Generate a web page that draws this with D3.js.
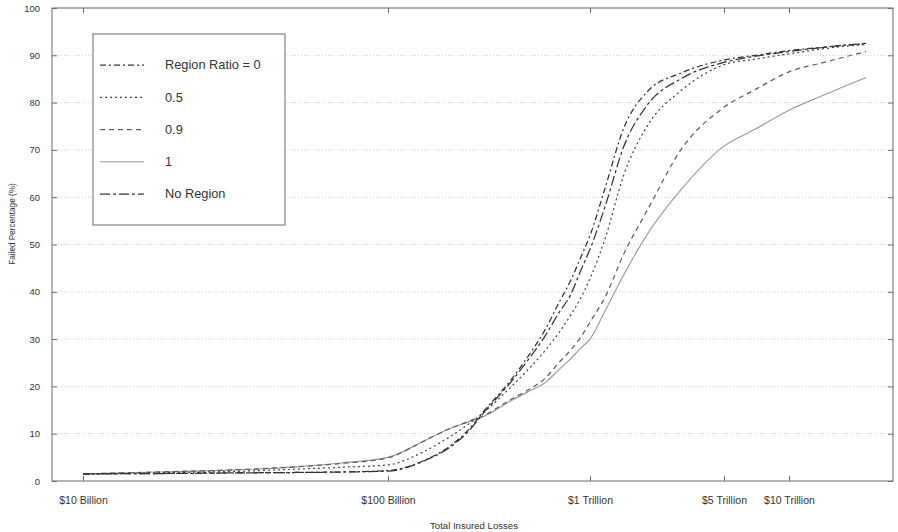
<!DOCTYPE html>
<html>
<head>
<meta charset="utf-8">
<script src="https://cdn.jsdelivr.net/npm/d3@7"></script>
<style>
  html, body { margin: 0; padding: 0; background: #fff; }
  svg { display: block; font-family: "Liberation Sans", Arial, sans-serif; }
</style>
</head>
<body>
<svg id="chart" width="898" height="532"></svg>
<script>
// ---- data ----
const lossesBillions = [10, 20, 30, 50, 70, 100, 150, 200, 250, 300, 400, 500, 600, 700, 800, 900, 1000, 1200, 1500, 2000, 3000, 5000, 7000, 10000, 15000, 24500];
const ratio0   = [1.5, 1.6, 1.7, 1.8, 1.9, 2.2, 4.3, 7.2, 10.8, 14.9, 21.0, 26.7, 32.0, 37.6, 42.3, 47.3, 51.9, 62.0, 74.6, 82.4, 86.3, 89.0, 90.0, 91.0, 91.7, 92.5];
const ratio05  = [1.5, 1.8, 2.0, 2.5, 2.9, 3.4, 6.2, 9.2, 12.0, 14.6, 19.6, 23.8, 27.6, 31.3, 35.0, 38.7, 42.8, 51.3, 64.7, 75.2, 82.6, 88.0, 89.2, 90.3, 91.4, 92.3];
const ratio09  = [1.5, 2.0, 2.3, 3.0, 3.7, 4.9, 8.4, 11.0, 12.6, 13.9, 17.1, 19.4, 21.7, 25.0, 27.6, 30.4, 33.6, 38.9, 48.0, 57.4, 70.2, 79.0, 82.8, 86.5, 88.5, 90.8];
const ratio1   = [1.5, 2.0, 2.3, 3.0, 3.8, 5.0, 8.4, 11.0, 12.5, 13.7, 16.8, 19.0, 20.8, 23.5, 25.8, 28.1, 30.0, 36.0, 43.6, 52.3, 61.7, 70.8, 74.4, 78.4, 81.6, 85.3];
const noRegion = [1.5, 1.6, 1.7, 1.8, 1.9, 2.1, 4.2, 7.0, 10.5, 14.6, 20.6, 25.9, 30.7, 35.5, 39.3, 44.5, 49.0, 58.1, 70.7, 79.6, 85.1, 88.5, 89.8, 90.8, 91.7, 92.5];

const seriesNames = ["Region Ratio = 0", "0.5", "0.9", "1", "No Region"];
const xTickValues = [10, 100, 1000, 5000, 10000];
const xTickLabels = ["$10 Billion", "$100 Billion", "$1 Trillion", "$5 Trillion", "$10 Trillion"];
const yTickValues = [0, 10, 20, 30, 40, 50, 60, 70, 80, 90, 100];
const xTitle = "Total Insured Losses";
const yTitle = "Failed Percentage (%)";

// ---- styles (not data) ----
const styles = [
  { color: "#333333", dash: "6,3,2,3",  width: 1.25 },
  { color: "#444444", dash: "2,3",      width: 1.25 },
  { color: "#5e5e5e", dash: "5,4",      width: 1.25 },
  { color: "#9a9a9a", dash: null,       width: 1.15 },
  { color: "#333333", dash: "10,3,3,3", width: 1.25 }
];
const seriesValues = [ratio0, ratio05, ratio09, ratio1, noRegion];

// ---- layout ----
const plot = { left: 52, right: 893, top: 8, bottom: 481 };
const svg = d3.select("#chart");

// piecewise log scale (axis positions in the original are not uniform per decade)
const x = d3.scaleLog()
  .domain([10, 100, 1000, 5000, 10000, 24500])
  .range([83, 388, 590, 724, 789, 866]);
const y = d3.scaleLinear().domain([0, 100]).range([plot.bottom, plot.top]);

// grid
svg.append("g").selectAll("line")
  .data(yTickValues.filter(v => v > 0 && v < 100))
  .join("line")
  .attr("x1", plot.left).attr("x2", plot.right)
  .attr("y1", d => y(d)).attr("y2", d => y(d))
  .attr("stroke", "#cccccc").attr("stroke-width", 1)
  .attr("stroke-dasharray", "1,2");

// frame
svg.append("rect")
  .attr("x", plot.left).attr("y", plot.top)
  .attr("width", plot.right - plot.left).attr("height", plot.bottom - plot.top)
  .attr("fill", "none").attr("stroke", "#6a6a6a").attr("stroke-width", 1);

// axes (inward ticks on all four sides)
const tickLen = 5;
const fmtX = (d) => xTickLabels[xTickValues.indexOf(d)];
const xBottom = d3.axisBottom(x).tickValues(xTickValues).tickFormat(fmtX).tickSize(-tickLen).tickPadding(16);
const xTop = d3.axisTop(x).tickValues(xTickValues).tickFormat("").tickSize(-tickLen);
const yLeft = d3.axisLeft(y).tickValues(yTickValues).tickSize(-tickLen).tickPadding(12);
const yRight = d3.axisRight(y).tickValues(yTickValues).tickFormat("").tickSize(-tickLen);

function styleAxis(fs) {
  return function (g) {
    g.select(".domain").remove();
    g.selectAll(".tick line").attr("stroke", "#6a6a6a");
    g.selectAll(".tick text").attr("fill", "#333").attr("font-size", fs)
      .attr("font-family", "'Liberation Sans', Arial, sans-serif");
  };
}
svg.append("g").attr("transform", `translate(0,${plot.bottom})`).call(xBottom).call(styleAxis(10.5));
svg.append("g").attr("transform", `translate(0,${plot.top})`).call(xTop).call(styleAxis(9));
svg.append("g").attr("transform", `translate(${plot.left},0)`).call(yLeft).call(styleAxis(9.5));
svg.append("g").attr("transform", `translate(${plot.right},0)`).call(yRight).call(styleAxis(9));

// axis titles
svg.append("text")
  .attr("x", 474).attr("y", 529)
  .attr("text-anchor", "middle").attr("font-size", 9.6).attr("fill", "#333")
  .text(xTitle);
svg.append("text")
  .attr("transform", `translate(15,224) rotate(-90)`)
  .attr("text-anchor", "middle").attr("font-size", 8.2).attr("fill", "#333")
  .text(yTitle);

// lines
const line = d3.line()
  .x((d, i) => x(lossesBillions[i]))
  .y(d => y(d))
  .curve(d3.curveMonotoneX);

const drawOrder = [3, 2, 1, 4, 0];
drawOrder.forEach(k => {
  svg.append("path")
    .datum(seriesValues[k])
    .attr("d", line)
    .attr("fill", "none")
    .attr("stroke", styles[k].color)
    .attr("stroke-width", styles[k].width)
    .attr("stroke-dasharray", styles[k].dash);
});

// legend
const legend = svg.append("g");
legend.append("rect")
  .attr("x", 93).attr("y", 34).attr("width", 192).attr("height", 191)
  .attr("fill", "#fff").attr("stroke", "#6a6a6a").attr("stroke-width", 1);
const rowY = d3.scalePoint().domain(seriesNames).range([65, 194]);
seriesNames.forEach((name, k) => {
  const yy = rowY(name);
  legend.append("line")
    .attr("x1", 100).attr("x2", 144).attr("y1", yy).attr("y2", yy)
    .attr("stroke", styles[k].color)
    .attr("stroke-width", styles[k].width)
    .attr("stroke-dasharray", styles[k].dash);
  legend.append("text")
    .attr("x", 165).attr("y", yy).attr("dy", "0.35em")
    .attr("font-size", 12.8).attr("fill", "#333")
    .text(name);
});
</script>
</body>
</html>
